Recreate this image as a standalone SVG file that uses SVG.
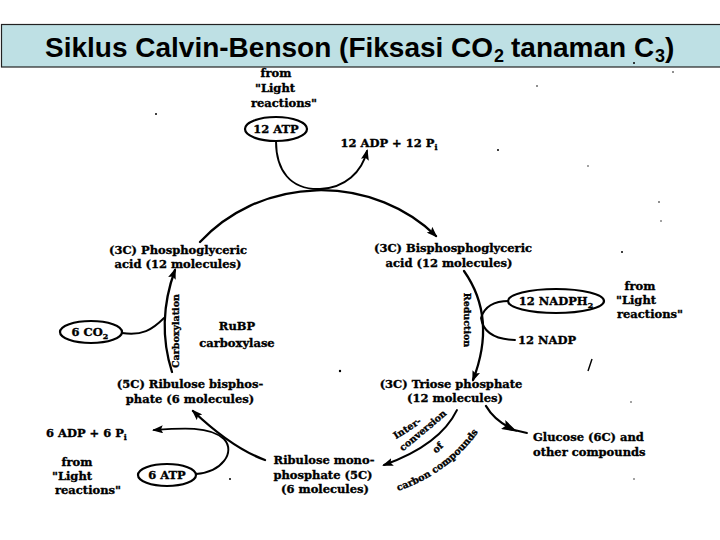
<svg xmlns="http://www.w3.org/2000/svg" width="720" height="540" viewBox="0 0 720 540">
<style>
.lbl{font-family:"DejaVu Serif","Liberation Serif",serif;font-weight:bold;font-size:11.5px;fill:#000;stroke:#000;stroke-width:0.35}
.mid{text-anchor:middle}
.rot{font-size:9.5px}
.conn{fill:none;stroke:#000;stroke-width:2.3;stroke-linecap:round}
.thin{stroke-width:1.9}
.oval{fill:#fff;stroke:#000;stroke-width:2.2}
.title{font-family:"Liberation Sans",Arial,sans-serif;font-weight:bold;font-size:28px;fill:#000}
.sub{font-size:18px}
</style>
<defs>
<marker id="ah" markerWidth="11" markerHeight="8" refX="9" refY="4" orient="auto" markerUnits="userSpaceOnUse"><path d="M0,0 L11,4 L0,8 L2,4 z" fill="#000"/></marker>
<marker id="ahBig" markerWidth="16" markerHeight="10" refX="10" refY="5" orient="auto" markerUnits="userSpaceOnUse"><path d="M0,0 L16,5 L0,10 L3,5 z" fill="#000"/></marker>
</defs>
<rect width="720" height="540" fill="#fff"/>
<g id="title">
<rect x="1.5" y="24.5" width="722" height="42.5" fill="#BEE0E4" stroke="#222" stroke-width="1.2"/>
<text class="title" x="45" y="57">Siklus Calvin-Benson (Fiksasi CO</text>
<text class="title sub" x="494" y="62">2</text>
<text class="title" x="511" y="57">tanaman C</text>
<text class="title sub" x="655" y="62">3</text>
<text class="title" x="665" y="57">)</text>
</g>
<g id="connectors">
<path class="conn" d="M200,242 A160,150 0 0 1 436,236" marker-end="url(#ah)"/>
<path class="conn" d="M464,271 Q497,318 473,380" marker-end="url(#ah)"/>
<path class="conn" d="M172,372 Q156,322 175,270" marker-end="url(#ah)"/>
<path class="conn" d="M265,460 Q232,448 193,411" marker-end="url(#ah)"/>
<path class="conn thin" d="M457,410 Q440,445 384,465" marker-end="url(#ah)"/>
<path class="conn thin" d="M276,141 C276,170 290,190 320,189 C345,188 362,172 367,151" marker-end="url(#ah)"/>
<path class="conn thin" d="M509,301 Q486,301 481,318 Q484,339 515,340"/>
<path class="conn thin" d="M122,333 C142,336 152,330 164,318"/>
<path class="conn thin" d="M196,474 C222,472 236,452 224,439 C210,426 182,428 154,430" marker-end="url(#ah)"/>
<path class="conn" d="M486,406 Q494,420 512,429" marker-end="url(#ahBig)"/>
<path class="conn thin" d="M510,429 L527,433"/>
</g>
<g id="connector-labels">
<text class="lbl rot mid" transform="translate(179,331) rotate(-90)">Carboxylation</text>
<text class="lbl rot mid" transform="translate(464,320) rotate(90)">Reduction</text>
<text class="lbl rot mid" transform="translate(409,431) rotate(-33)">Inter-</text>
<text class="lbl rot mid" transform="translate(425,433) rotate(-40)">conversion</text>
<text class="lbl rot mid" transform="translate(440,450) rotate(-45)">of</text>
<path id="cc" d="M398,491 Q460,470 492,410" fill="none"/>
<text class="lbl rot"><textPath href="#cc" startOffset="0">carbon compounds</textPath></text>
</g>
<g id="n-from-top">
<text class="lbl mid" x="276" y="77">from</text>
<text class="lbl mid" x="275" y="92">"Light</text>
<text class="lbl mid" x="284" y="107">reactions"</text>
</g>
<g id="n-atp12">
<ellipse class="oval" cx="276" cy="129" rx="31" ry="12"/>
<text class="lbl mid" x="276" y="133">12 ATP</text>
</g>
<g id="n-adp12">
<text class="lbl mid" x="389" y="147">12 ADP + 12 P<tspan font-size="8" dy="3">i</tspan></text>
</g>
<g id="n-pga">
<text class="lbl mid" x="178" y="254">(3C) Phosphoglyceric</text>
<text class="lbl mid" x="178" y="268">acid (12 molecules)</text>
</g>
<g id="n-bpg">
<text class="lbl mid" x="453" y="252">(3C) Bisphosphoglyceric</text>
<text class="lbl mid" x="449" y="267">acid (12 molecules)</text>
</g>
<g id="n-nadph">
<ellipse class="oval" cx="556" cy="301" rx="48" ry="12"/>
<text class="lbl mid" x="556" y="305">12 NADPH<tspan font-size="8" dy="3">2</tspan></text>
</g>
<g id="n-nadp">
<text class="lbl" x="518" y="344">12 NADP</text>
</g>
<g id="n-from-right">
<text class="lbl mid" x="640" y="290">from</text>
<text class="lbl mid" x="636" y="304">"Light</text>
<text class="lbl mid" x="650" y="318">reactions"</text>
</g>
<g id="n-enzyme">
<text class="lbl mid" x="237" y="330">RuBP</text>
<text class="lbl mid" x="237" y="347">carboxylase</text>
</g>
<g id="n-co2">
<ellipse class="oval" cx="91" cy="332" rx="31" ry="11"/>
<text class="lbl mid" x="90" y="336">6 CO<tspan font-size="8" dy="3">2</tspan></text>
</g>
<g id="n-rubp">
<text class="lbl mid" x="190" y="388">(5C) Ribulose bisphos-</text>
<text class="lbl mid" x="190" y="403">phate (6 molecules)</text>
</g>
<g id="n-triose">
<text class="lbl mid" x="451" y="388">(3C) Triose phosphate</text>
<text class="lbl mid" x="455" y="402">(12 molecules)</text>
</g>
<g id="n-glucose">
<text class="lbl" x="533" y="441">Glucose (6C) and</text>
<text class="lbl" x="533" y="456">other  compounds</text>
</g>
<g id="n-rump">
<text class="lbl mid" x="324" y="464">Ribulose mono-</text>
<text class="lbl mid" x="323" y="479">phosphate (5C)</text>
<text class="lbl mid" x="325" y="493">(6 molecules)</text>
</g>
<g id="n-adp6">
<text class="lbl" x="46" y="437">6 ADP + 6 P<tspan font-size="8" dy="3">i</tspan></text>
</g>
<g id="n-from-bl">
<text class="lbl mid" x="77" y="466">from</text>
<text class="lbl mid" x="72" y="480">"Light</text>
<text class="lbl mid" x="88" y="494">reactions"</text>
</g>
<g id="n-atp6">
<ellipse class="oval" cx="167" cy="475" rx="29" ry="11"/>
<text class="lbl mid" x="167" y="479">6 ATP</text>
</g>
<g id="specks" fill="#000">
<circle cx="156" cy="114" r="1"/>
<circle cx="537" cy="86" r="0.8"/>
<circle cx="673" cy="72" r="0.8"/>
<circle cx="498" cy="150" r="1"/>
<circle cx="588" cy="166" r="0.7"/>
<circle cx="659" cy="202" r="0.8"/>
<circle cx="661" cy="221" r="0.7"/>
<circle cx="622" cy="252" r="1"/>
<circle cx="340" cy="371" r="1.2"/>
<circle cx="631" cy="402" r="0.7"/>
<circle cx="230" cy="479" r="1"/>
<circle cx="634" cy="479" r="0.7"/>
<circle cx="634" cy="63" r="1"/>
<path d="M592,359 L588,371" stroke="#000" stroke-width="1.4"/>
</g>
</svg>
